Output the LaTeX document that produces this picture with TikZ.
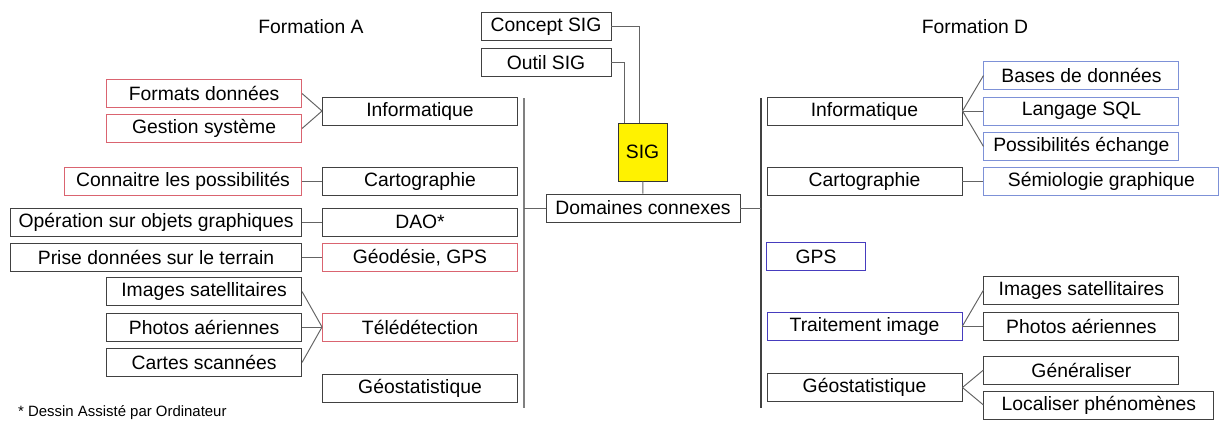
\documentclass[tikz,border=0pt]{standalone}
\usepackage{fontspec}
\setmainfont{Liberation Sans}
\usetikzlibrary{positioning}
\definecolor{boxgray}{RGB}{65,65,65}
\definecolor{linkgray}{RGB}{100,100,100}
\definecolor{redline}{RGB}{218,100,112}
\definecolor{blueline}{RGB}{125,145,215}
\definecolor{darkblue}{RGB}{70,60,190}
\tikzstyle{box} = [rectangle, draw=boxgray, line width=0.55pt, minimum width=3.9cm, minimum height=0.56cm, inner sep=0pt, text centered, font=\fontsize{11}{13}\selectfont]
\tikzstyle{redbox} = [box, draw=redline]
\tikzstyle{bluebox} = [box, draw=blueline]
\tikzstyle{darkbluebox} = [box, draw=darkblue]
\tikzstyle{widebox} = [box, minimum width=5.82cm]
\tikzstyle{sigbox} = [box, fill=yellow, draw=boxgray!80!black, minimum width=0.98cm, minimum height=1.16cm]
\tikzstyle{title} = [font=\fontsize{11}{13}\selectfont]
\tikzstyle{link} = [draw=linkgray, line width=0.55pt]
\tikzstyle{spine} = [draw=boxgray, line width=0.8pt]

\begin{document}
\begin{tikzpicture}[x=0.02cm, y=-0.02cm, node distance=0.13cm and 0.4cm]
    \useasboundingbox (0,0) rectangle (1219,423);

    \node [title] (formA) at (311,27) {Formation A};
    \node [title] (formD) at (975,27) {Formation D};

    \node [box, minimum width=2.6cm] (concept) at (546,26.5) {Concept SIG};
    \node [box, minimum width=2.6cm] (outil) at (546,62.5) {Outil SIG};
    \node [sigbox] (sig) at (642.5,152) {SIG};
    \node [box, minimum width=3.88cm] (domaines) at (643,208) {Domaines connexes};

    \coordinate (topA) at (524,98);
    \coordinate (botA) at (524,408);
    \coordinate (topD) at (761,98);
    \coordinate (botD) at (761,408);

    \node [box] (infoA) at (420,111) {Informatique};
    \node [box] (cartoA) at (420,181) {Cartographie};
    \node [box] (dao) at (420,222) {DAO*};
    \node [redbox] (geodesie) at (420,257.5) {Géodésie, GPS};
    \node [redbox] (teledet) at (420,327) {Télédétection};
    \node [box] (geostatA) at (420,388) {Géostatistique};

    \node [redbox, left=of infoA, yshift=0.35cm] (formats) {Formats données};
    \node [redbox, left=of infoA, yshift=-0.35cm] (gestion) {Gestion système};
    \node [redbox, left=of cartoA, minimum width=4.74cm] (connaitre) {Connaitre les possibilités};
    \node [widebox, left=of dao] (operation) {Opération sur objets graphiques};
    \node [widebox, left=of geodesie] (prise) {Prise données sur le terrain};
    \node [box, left=of teledet] (photosA) {Photos aériennes};
    \node [box, above=of photosA] (imagesA) {Images satellitaires};
    \node [box, below=of photosA] (cartes) {Cartes scannées};

    \node [box] (infoD) at (864.5,111) {Informatique};
    \node [box] (cartoD) at (864.5,181) {Cartographie};
    \node [darkbluebox, minimum width=1.98cm] (gps) at (816,256.5) {GPS};
    \node [darkbluebox] (traitement) at (864.5,326) {Traitement image};
    \node [box] (geostatD) at (864.5,387.5) {Géostatistique};

    \node [bluebox, right=0.42cm of infoD] (sql) {Langage SQL};
    \node [bluebox, above=of sql] (bases) {Bases de données};
    \node [bluebox, below=of sql] (echange) {Possibilités échange};
    \node [bluebox, right=0.42cm of cartoD, minimum width=4.7cm] (semio) {Sémiologie graphique};
    \node [box, right=0.42cm of traitement] (photosD) {Photos aériennes};
    \node [box, above=0.14cm of photosD] (imagesD) {Images satellitaires};
    \node [box, right=0.42cm of geostatD, yshift=0.35cm] (generaliser) {Généraliser};
    \node [box, right=0.42cm of geostatD, yshift=-0.35cm, minimum width=4.6cm] (localiser) {Localiser phénomènes};

    \node [anchor=west, font=\fontsize{8.5}{10}\selectfont] (note) at (12,413) {* Dessin Assisté par Ordinateur};

    \draw [link] (concept.east) -| ([xshift=-0.07cm]sig.north);
    \draw [link] (outil.east) -| ([xshift=-0.37cm]sig.north);
    \draw [link] (sig) -- (domaines);
    \draw [spine, draw=gray] (topA) -- (botA);
    \draw [spine, line width=0.6pt] (topD) -- (botD);
    \draw [link] (domaines.west) -- (domaines.west -| topA);
    \draw [link] (domaines.east) -- (domaines.east -| topD);

    \draw [link] (formats.east) -- (infoA.west);
    \draw [link] (gestion.east) -- (infoA.west);
    \draw [link] (connaitre) -- (cartoA);
    \draw [link] (operation) -- (dao);
    \draw [link] (prise) -- (geodesie);
    \draw [link] (imagesA.east) -- (teledet.west);
    \draw [link] (photosA) -- (teledet);
    \draw [link] (cartes.east) -- (teledet.west);

    \draw [link] (infoD.east) -- (bases.west);
    \draw [link] (infoD) -- (sql);
    \draw [link] (infoD.east) -- (echange.west);
    \draw [link] (cartoD) -- (semio);
    \draw [link] (traitement.east) -- (imagesD.west);
    \draw [link] (traitement) -- (photosD);
    \draw [link] (geostatD.east) -- (generaliser.west);
    \draw [link] (geostatD.east) -- (localiser.west);
\end{tikzpicture}
\end{document}
